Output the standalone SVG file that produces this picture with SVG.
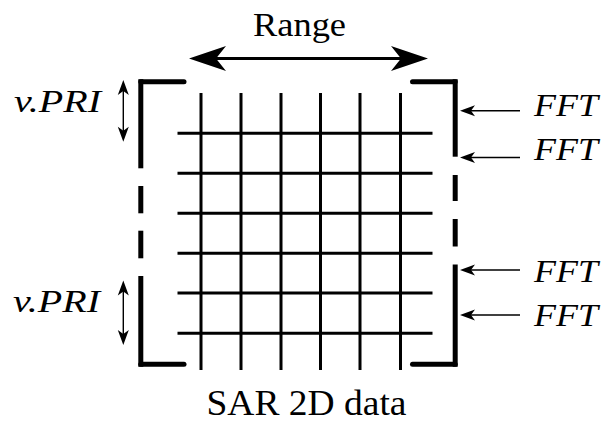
<svg xmlns="http://www.w3.org/2000/svg" xmlns:xlink="http://www.w3.org/1999/xlink" width="608" height="427" viewBox="0 0 608 427">
<style>
.bg{fill:#ffffff}
.br{stroke:#000;stroke-width:5;fill:none;stroke-linecap:butt}
.brh{stroke:#000;stroke-width:5;fill:none;stroke-linecap:round}
.grid{stroke:#000;stroke-width:3;fill:none}
.thin{stroke:#000;stroke-width:1.4;fill:none}
.thick{stroke:#000;stroke-width:3;fill:none}
.head{fill:#000}
.lab{font-family:"Liberation Serif","Times New Roman",serif;fill:#000}
.it{font-style:italic}
</style>
<defs>
<path id="big" d="M0,0 L37,-12.5 L27,0 L37,12.5 Z"/>
<path id="small" d="M0,0 L15,-5.5 L11,0 L15,5.5 Z"/>
</defs>
<rect class="bg" x="0" y="0" width="608" height="427"/>

<g id="title">
<text class="lab" x="253" y="36" font-size="33" textLength="93" lengthAdjust="spacingAndGlyphs">Range</text>
</g>

<g id="grid">
<line class="grid" x1="201" y1="93" x2="201" y2="370"/>
<line class="grid" x1="241" y1="93" x2="241" y2="370"/>
<line class="grid" x1="281" y1="93" x2="281" y2="370"/>
<line class="grid" x1="320.5" y1="93" x2="320.5" y2="370"/>
<line class="grid" x1="360" y1="93" x2="360" y2="370"/>
<line class="grid" x1="400.5" y1="93" x2="400.5" y2="370"/>
<line class="grid" x1="177.5" y1="133.3" x2="432.5" y2="133.3"/>
<line class="grid" x1="177.5" y1="173.3" x2="432.5" y2="173.3"/>
<line class="grid" x1="177.5" y1="213.3" x2="432.5" y2="213.3"/>
<line class="grid" x1="177.5" y1="253.3" x2="432.5" y2="253.3"/>
<line class="grid" x1="177.5" y1="293" x2="432.5" y2="293"/>
<line class="grid" x1="177.5" y1="333.3" x2="432.5" y2="333.3"/>
</g>

<g id="left-bracket">
<line class="brh" x1="140.8" y1="81.7" x2="184" y2="81.7"/>
<line class="br" x1="140.8" y1="79.2" x2="140.8" y2="168.3"/>
<line class="br" x1="140.8" y1="186" x2="140.8" y2="213.3"/>
<line class="br" x1="140.8" y1="230.7" x2="140.8" y2="258.3"/>
<line class="br" x1="140.8" y1="276" x2="140.8" y2="366.8"/>
<line class="brh" x1="140.8" y1="364.3" x2="184" y2="364.3"/>
</g>

<g id="right-bracket">
<line class="brh" x1="412.5" y1="81.7" x2="455.2" y2="81.7"/>
<line class="br" x1="455.2" y1="79.2" x2="455.2" y2="156.7"/>
<line class="br" x1="455.2" y1="175" x2="455.2" y2="201"/>
<line class="br" x1="455.2" y1="219" x2="455.2" y2="246.5"/>
<line class="br" x1="455.2" y1="264.5" x2="455.2" y2="366.8"/>
<line class="brh" x1="412.5" y1="364.3" x2="455.2" y2="364.3"/>
</g>

<g id="connectors">
<line class="thick" x1="216" y1="58.5" x2="401" y2="58.5"/>
<use xlink:href="#big" href="#big" class="head" transform="translate(189,58.5)"/>
<use xlink:href="#big" href="#big" class="head" transform="translate(428,58.5) rotate(180)"/>

<line class="thin" x1="123.3" y1="88" x2="123.3" y2="134"/>
<use xlink:href="#small" href="#small" class="head" transform="translate(123.3,80) rotate(90)"/>
<use xlink:href="#small" href="#small" class="head" transform="translate(123.3,141.7) rotate(-90)"/>

<line class="thin" x1="123.3" y1="288" x2="123.3" y2="337"/>
<use xlink:href="#small" href="#small" class="head" transform="translate(123.3,280.5) rotate(90)"/>
<use xlink:href="#small" href="#small" class="head" transform="translate(123.3,345) rotate(-90)"/>

<line class="thin" x1="470" y1="110.7" x2="520" y2="110.7"/>
<use xlink:href="#small" href="#small" class="head" transform="translate(460,110.7)"/>
<line class="thin" x1="470" y1="157.5" x2="520" y2="157.5"/>
<use xlink:href="#small" href="#small" class="head" transform="translate(460,157.5)"/>
<line class="thin" x1="470" y1="270" x2="520" y2="270"/>
<use xlink:href="#small" href="#small" class="head" transform="translate(460,270)"/>
<line class="thin" x1="470" y1="315" x2="520" y2="315"/>
<use xlink:href="#small" href="#small" class="head" transform="translate(460,315)"/>
</g>

<g id="labels-left">
<text class="lab it" x="14" y="112" font-size="31" textLength="87" lengthAdjust="spacingAndGlyphs">v.PRI</text>
<text class="lab it" x="13" y="312" font-size="31" textLength="87" lengthAdjust="spacingAndGlyphs">v.PRI</text>
</g>

<g id="labels-right">
<text class="lab it" x="534" y="116" font-size="31" textLength="64" lengthAdjust="spacingAndGlyphs">FFT</text>
<text class="lab it" x="534" y="160" font-size="31" textLength="64" lengthAdjust="spacingAndGlyphs">FFT</text>
<text class="lab it" x="534" y="281.5" font-size="31" textLength="64" lengthAdjust="spacingAndGlyphs">FFT</text>
<text class="lab it" x="534" y="326" font-size="31" textLength="64" lengthAdjust="spacingAndGlyphs">FFT</text>
</g>

<g id="caption">
<text class="lab" x="206.5" y="415" font-size="35" textLength="200" lengthAdjust="spacingAndGlyphs">SAR 2D data</text>
</g>
</svg>
